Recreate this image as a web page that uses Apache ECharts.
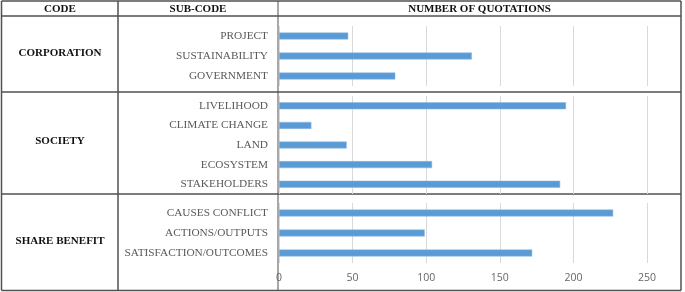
<!DOCTYPE html>
<html>
<head>
<meta charset="utf-8">
<script src="https://cdn.jsdelivr.net/npm/echarts@6/dist/echarts.min.js"></script>
<style>
  html, body { margin: 0; padding: 0; background: #fff; }
  #chart { width: 685px; height: 292px; }
</style>
</head>
<body>
<div id="chart"></div>
<script>
// data
const codes = ['CORPORATION', 'SOCIETY', 'SHARE BENEFIT'];
const corporationSubs = ['PROJECT', 'SUSTAINABILITY', 'GOVERNMENT'];
const corporationValues = [47, 131, 79];
const societySubs = ['LIVELIHOOD', 'CLIMATE CHANGE', 'LAND', 'ECOSYSTEM', 'STAKEHOLDERS'];
const societyValues = [195, 22, 46, 104, 191];
const shareSubs = ['CAUSES CONFLICT', 'ACTIONS/OUTPUTS', 'SATISFACTION/OUTCOMES'];
const shareValues = [227, 99, 172];
const headers = ['CODE', 'SUB-CODE', 'NUMBER OF QUOTATIONS'];
const xTicks = [0, 50, 100, 150, 200, 250];

const serif = '"Liberation Serif", "DejaVu Serif", serif';
const barColor = '#5B9BD5';
const lineColor = '#505050';

const grids = [
  { left: 279, right: 38, top: 26, height: 60 },
  { left: 279, right: 38, top: 96, height: 98 },
  { left: 279, right: 38, top: 203, height: 60 }
];
const subLists = [corporationSubs, societySubs, shareSubs];
const valueLists = [corporationValues, societyValues, shareValues];

const xAxes = grids.map((g, i) => ({
  type: 'value',
  gridIndex: i,
  min: xTicks[0],
  max: xTicks[xTicks.length - 1],
  interval: xTicks[1] - xTicks[0],
  axisLine: { show: false },
  axisTick: { show: false },
  axisLabel: {
    show: i === 2,
    color: '#666',
    fontFamily: '"Open Sans", "Liberation Sans", sans-serif',
    fontSize: 10.5,
    margin: 10
  },
  splitLine: { lineStyle: { color: '#d9d9d9', width: 1 } }
}));

const yAxes = grids.map((g, i) => ({
  type: 'category',
  gridIndex: i,
  inverse: true,
  data: subLists[i],
  axisLine: { show: false },
  axisTick: { show: false },
  axisLabel: {
    color: '#595959',
    fontFamily: serif,
    fontSize: 11.3,
    margin: 11
  }
}));

const series = grids.map((g, i) => ({
  type: 'bar',
  xAxisIndex: i,
  yAxisIndex: i,
  data: valueLists[i],
  barWidth: 7,
  itemStyle: { color: barColor, borderColor: '#8db9e3', borderWidth: 0.5 },
  silent: true
}));

// table frame
const hLines = [1, 16, 92, 194, 290.5];
const vLines = [1.5, 118, 278, 681];
const graphic = [];
hLines.forEach(y => graphic.push({
  type: 'line',
  shape: { x1: 1.5, y1: y, x2: 681, y2: y },
  style: { stroke: lineColor, lineWidth: 1.5 }
}));
vLines.forEach((x, i) => graphic.push({
  type: 'line',
  shape: { x1: x, y1: 1, x2: x, y2: 290.5 },
  style: { stroke: lineColor, lineWidth: i === 2 ? 1 : 1.5 }
}));
const headerX = [60, 198, 479.5];
headers.forEach((h, i) => graphic.push({
  type: 'text',
  x: headerX[i],
  y: 9,
  style: {
    text: h,
    fill: '#111',
    font: 'bold 11px ' + serif,
    textAlign: 'center',
    textVerticalAlign: 'middle'
  }
}));
const codeY = [53, 141, 241];
codes.forEach((c, i) => graphic.push({
  type: 'text',
  x: 60,
  y: codeY[i],
  style: {
    text: c,
    fill: '#111',
    font: 'bold 11px ' + serif,
    textAlign: 'center',
    textVerticalAlign: 'middle'
  }
}));

const myChart = echarts.init(document.getElementById('chart'));
myChart.setOption({
  animation: false,
  grid: grids,
  xAxis: xAxes,
  yAxis: yAxes,
  series: series,
  graphic: graphic
});
</script>
</body>
</html>
